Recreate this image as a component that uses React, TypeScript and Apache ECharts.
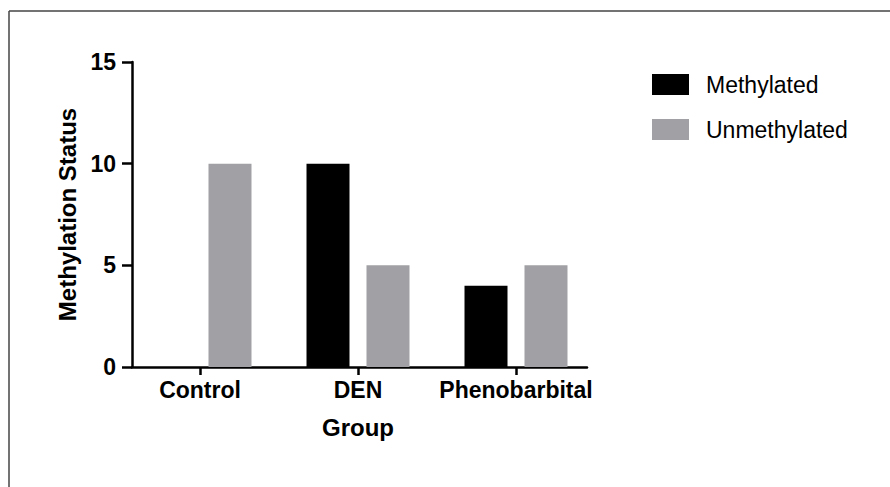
import React, { useEffect, useRef } from "react";
import * as echarts from "echarts";

const categories = ["Control", "DEN", "Phenobarbital"];
const methylated = [0, 10, 4];
const unmethylated = [10, 5, 5];
const yTicks = { min: 0, max: 15, interval: 5 };
const seriesNames = ["Methylated", "Unmethylated"];

const FONT = "'Liberation Sans', Arial, Helvetica, sans-serif";

export default function App() {
  const ref = useRef<HTMLDivElement>(null);
  useEffect(() => {
    if (!ref.current) return;
    const chart = echarts.init(ref.current, undefined, { renderer: "svg" });
    const axisLine = { show: true, lineStyle: { color: "#000", width: 2.5 } };
    chart.setOption({
      animation: false,
      backgroundColor: "#fff",
      textStyle: { fontFamily: FONT },
      graphic: [
        { type: "line", shape: { x1: 9, y1: 11, x2: 890, y2: 11 }, style: { stroke: "#444", lineWidth: 1.5 }, silent: true },
        { type: "line", shape: { x1: 9, y1: 11, x2: 9, y2: 487 }, style: { stroke: "#444", lineWidth: 1.5 }, silent: true },
      ],
      legend: {
        orient: "vertical",
        left: 652,
        top: 73,
        padding: 0,
        itemWidth: 37,
        itemHeight: 21,
        itemGap: 22,
        icon: "rect",
        data: seriesNames,
        textStyle: { fontSize: 23, color: "#000", fontFamily: FONT, padding: [0, 0, 0, 12] },
      },
      grid: [
        { left: 132, width: 455, top: 62, bottom: 120 },
        { left: 121, width: 474, top: 62, bottom: 120 },
      ],
      xAxis: [
        {
          type: "category",
          gridIndex: 0,
          data: categories,
          axisLine,
          axisTick: { show: false },
          axisLabel: { show: false },
          splitLine: { show: false },
        },
        {
          type: "category",
          gridIndex: 1,
          data: categories,
          axisLine: { show: false },
          axisTick: { show: true, alignWithLabel: true, length: 8, lineStyle: { color: "#000", width: 2.5 } },
          axisLabel: { interval: 0, fontSize: 23, fontWeight: "bold", color: "#000", margin: 11, fontFamily: FONT },
          name: "Group",
          nameLocation: "middle",
          nameGap: 48,
          nameTextStyle: { fontSize: 24, fontWeight: "bold", color: "#000", fontFamily: FONT },
          splitLine: { show: false },
        },
      ],
      yAxis: [
        {
          type: "value",
          gridIndex: 0,
          min: yTicks.min,
          max: yTicks.max,
          interval: yTicks.interval,
          axisLine,
          axisTick: { show: true, length: 10, lineStyle: { color: "#000", width: 2.5 } },
          axisLabel: { fontSize: 23, fontWeight: "bold", color: "#000", margin: 16, fontFamily: FONT },
          splitLine: { show: false },
          name: "Methylation Status",
          nameLocation: "middle",
          nameGap: 47,
          nameTextStyle: { fontSize: 24, fontWeight: "bold", color: "#000", fontFamily: FONT },
        },
        {
          type: "value",
          gridIndex: 1,
          min: yTicks.min,
          max: yTicks.max,
          interval: yTicks.interval,
          show: false,
          splitLine: { show: false },
        },
      ],
      series: [
        {
          name: seriesNames[0],
          type: "bar",
          xAxisIndex: 1,
          yAxisIndex: 1,
          data: methylated,
          barWidth: 43,
          barGap: "39.5%",
          itemStyle: { color: "#000" },
        },
        {
          name: seriesNames[1],
          type: "bar",
          xAxisIndex: 1,
          yAxisIndex: 1,
          data: unmethylated,
          barWidth: 43,
          barGap: "39.5%",
          itemStyle: { color: "#a1a1a5" },
        },
      ],
    });
    return () => chart.dispose();
  }, []);
  return <div ref={ref} style={{ position: "fixed", left: 0, top: 0, width: 890, height: 487 }} />;
}
